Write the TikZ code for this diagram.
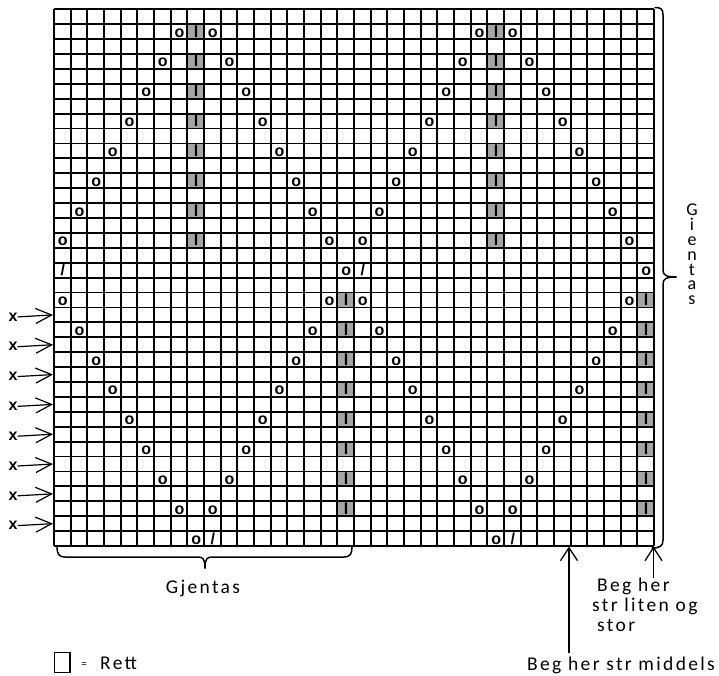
\documentclass[tikz,border=0pt]{standalone}
\usepackage{fontspec}
\setmainfont{Carlito}
\newfontfamily\lbl[LetterSpace=12]{Carlito}
\newfontfamily\symf{Liberation Sans}
\usetikzlibrary{arrows.meta}
\definecolor{cellgray}{RGB}{165,165,165}
\def\gx{54}
\def\gy{9.3}
\def\cw{16.667}
\def\rh{14.908}
\newcommand\putsym[3]{\node[sym] (s-#1-#2) at ({\gx+(#2+0.5)*\cw+0.5},{\gy+(#1+1)*\rh-2}) {#3};}
\newcommand\graycell[2]{\fill[cellgray] ({\gx+#2*\cw},{\gy+#1*\rh}) rectangle +(\cw,\rh);}
\begin{document}
\begin{tikzpicture}[x=1pt,y=-1pt,
  gridln/.style={line width=1.8pt,black},
  sym/.style={font=\symf\bfseries\fontsize{16}{16}\selectfont,inner sep=0pt,anchor=base},
  lab/.style={font=\lbl\fontsize{19.5}{20}\selectfont,inner sep=0pt},
  bracepath/.style={line width=1.5pt,line cap=round},
  leftarr/.style={line width=1.2pt,-{Straight Barb[length=16pt,width=15pt]}},
  uparr/.style={line width=1.3pt,-{Straight Barb[length=13pt,width=17pt]}}]
\useasboundingbox (0,0) rectangle (719,675);
% gray cells
\foreach \k in {0,...,7}{
  \pgfmathtruncatemacro\rA{1+2*\k}
  \pgfmathtruncatemacro\rB{19+2*\k}
  \graycell{\rA}{8}\graycell{\rA}{26}
  \graycell{\rB}{17}\graycell{\rB}{35}
}
% grid
\foreach \i in {0,...,36}{
  \draw[gridln] ({\gx+\i*\cw},\gy) -- ({\gx+\i*\cw},{\gy+36*\rh});
  \draw[gridln] (\gx,{\gy+\i*\rh}) -- ({\gx+36*\cw},{\gy+\i*\rh});
}
% symbols, upper half
\foreach \k in {0,...,7}{
  \pgfmathtruncatemacro\rr{1+2*\k}
  \pgfmathtruncatemacro\colA{7-\k}
  \pgfmathtruncatemacro\colB{9+\k}
  \pgfmathtruncatemacro\colC{25-\k}
  \pgfmathtruncatemacro\colD{27+\k}
  \putsym{\rr}{\colA}{o}\putsym{\rr}{\colB}{o}
  \putsym{\rr}{\colC}{o}\putsym{\rr}{\colD}{o}
  \putsym{\rr}{8}{l}\putsym{\rr}{26}{l}
}
% middle row
\putsym{17}{0}{/}\putsym{17}{17}{o}\putsym{17}{18}{/}\putsym{17}{35}{o}
% lower half
\foreach \k in {0,...,7}{
  \pgfmathtruncatemacro\rr{19+2*\k}
  \pgfmathtruncatemacro\colA{\k}
  \pgfmathtruncatemacro\colB{16-\k}
  \pgfmathtruncatemacro\colC{18+\k}
  \pgfmathtruncatemacro\colD{34-\k}
  \putsym{\rr}{\colA}{o}\putsym{\rr}{\colB}{o}
  \putsym{\rr}{\colC}{o}\putsym{\rr}{\colD}{o}
  \putsym{\rr}{17}{l}\putsym{\rr}{35}{l}
}
% bottom row
\putsym{35}{8}{o}\putsym{35}{9}{/}\putsym{35}{26}{o}\putsym{35}{27}{/}
% left x arrows
\foreach \r in {20,22,...,34}{
  \pgfmathsetmacro\yc{\gy+(\r+0.5)*\rh}
  \node[sym,anchor=center] (x\r) at (13,{\yc+2}) {x};
  \coordinate (t\r) at (53,\yc);
  \draw[leftarr] (x\r.east) -- (t\r);
}
% bottom brace
\draw[bracepath] (57,547) .. controls (57,554) and (59,557) .. (65,557) -- (198,557)
  .. controls (203,557) and (205,559) .. (205,568);
\draw[bracepath] (205,568) .. controls (205,559) and (207,557) .. (212,557) -- (344,557)
  .. controls (350,557) and (352,554) .. (352,547);
\node[lab,anchor=base] (gjb) at (203,593) {Gjentas};
% right brace
\draw[bracepath] (655,7.5) .. controls (661,7.5) and (663,9) .. (663,15) -- (663,270)
  .. controls (663,275) and (666,277) .. (676,277);
\draw[bracepath] (676,277) .. controls (666,277) and (663,279) .. (663,284) -- (663,540)
  .. controls (663,546) and (660,548) .. (652,548);
\node[font=\fontsize{18}{14.8}\selectfont,inner sep=0pt,align=center,anchor=north] (gjr) at (692,204) {G\\i\\e\\n\\t\\a\\s};
% start arrows
\coordinate (midtail) at (569,653);
\coordinate (midtip) at (569,546.5);
\draw[uparr] (midtail) -- (midtip);
\coordinate (smtail) at (653.5,578);
\coordinate (smtip) at (653.5,546.5);
\draw[uparr] (smtail) -- (smtip);
\node[lab,anchor=base west,align=left] (smtxt) at (592,631.7) {\hspace*{5pt}Beg her\\str liten og\\\hspace*{5pt}stor};
\node[lab,anchor=base west] (midtxt) at (527,670) {Beg her str middels};
% legend
\draw[line width=1.7pt] (54.5,652.5) rectangle (70,672.5);
\node[font=\fontsize{11}{11}\selectfont,inner sep=0pt] (eq) at (84,665) {=};
\node[lab,anchor=base west] (rett) at (100,669) {Rett};
\end{tikzpicture}
\end{document}
